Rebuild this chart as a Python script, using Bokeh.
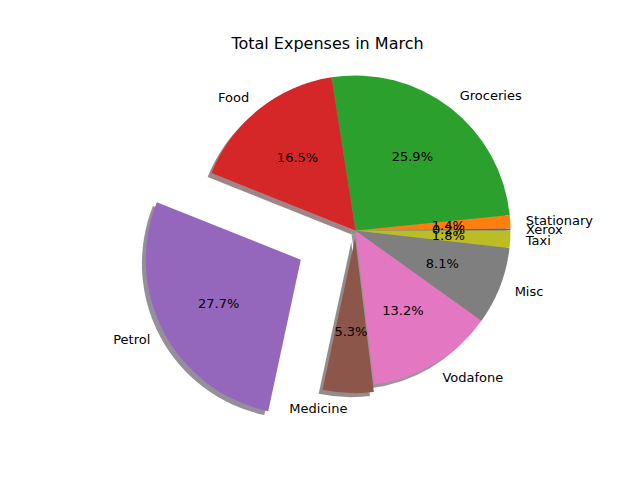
import numpy as np
from bokeh.plotting import figure
from bokeh.models import Range1d
from bokeh.embed import file_html
from bokeh.resources import INLINE
from bokeh.core.properties import value

labels = ["Xerox", "Stationary", "Groceries", "Food", "Petrol", "Medicine", "Vodafone", "Misc", "Taxi"]
shares = [0.2, 1.4, 25.9, 16.5, 27.7, 5.3, 13.2, 8.1, 1.8]
explode = [0, 0, 0, 0, 0.4, 0.05, 0, 0, 0]
colors = ["#1f77b4", "#ff7f0e", "#2ca02c", "#d62728", "#9467bd",
          "#8c564b", "#e377c2", "#7f7f7f", "#bcbd22"]

fr = np.array(shares) / sum(shares)
ends = np.cumsum(fr) * 2 * np.pi
starts = ends - fr * 2 * np.pi
mids = (starts + ends) / 2
ex = np.array(explode)
cx = ex * np.cos(mids)
cy = ex * np.sin(mids)

def dark(c):
    r, g, b = (int(c[i:i + 2], 16) for i in (1, 3, 5))
    return "#%02x%02x%02x" % (int(r * 0.3), int(g * 0.3), int(b * 0.3))

s = 155.0
p = figure(width=624, height=464, output_backend="svg", toolbar_location=None,
           x_range=Range1d(-355 / s, (624 - 355) / s),
           y_range=Range1d((230 - 464) / s, 230 / s), min_border=0)
p.axis.visible = False
p.grid.visible = False
p.outline_line_color = None

# shadows
p.wedge(x=cx - 0.025, y=cy - 0.025, radius=1, start_angle=starts, end_angle=ends,
        fill_color=[dark(c) for c in colors], fill_alpha=0.5, line_color=None)
p.wedge(x=cx, y=cy, radius=1, start_angle=starts, end_angle=ends,
        fill_color=colors, line_color=None)

lx = cx + 1.1 * np.cos(mids)
ly = cy + 1.1 * np.sin(mids)
p.text(x=list(lx[lx >= 0]), y=list(ly[lx >= 0]), text=[l for l, x in zip(labels, lx) if x >= 0],
       text_align="left", text_baseline="middle", text_font_size="13px",
       text_font=value("DejaVu Sans"))
p.text(x=list(lx[lx < 0]), y=list(ly[lx < 0]), text=[l for l, x in zip(labels, lx) if x < 0],
       text_align="right", text_baseline="middle", text_font_size="13px",
       text_font=value("DejaVu Sans"))
p.text(x=cx + 0.6 * np.cos(mids), y=cy + 0.6 * np.sin(mids),
       text=["%.1f%%" % v for v in fr * 100], text_align="center", text_baseline="middle",
       text_font_size="13px", text_font=value("DejaVu Sans"))
p.text(x=[(327 - 355) / s], y=[(230 - 43) / s], text=["Total Expenses in March"],
       text_align="center", text_baseline="middle", text_font_size="16px",
       text_font=value("DejaVu Sans"))

open("out.html", "w").write(file_html(p, INLINE))
